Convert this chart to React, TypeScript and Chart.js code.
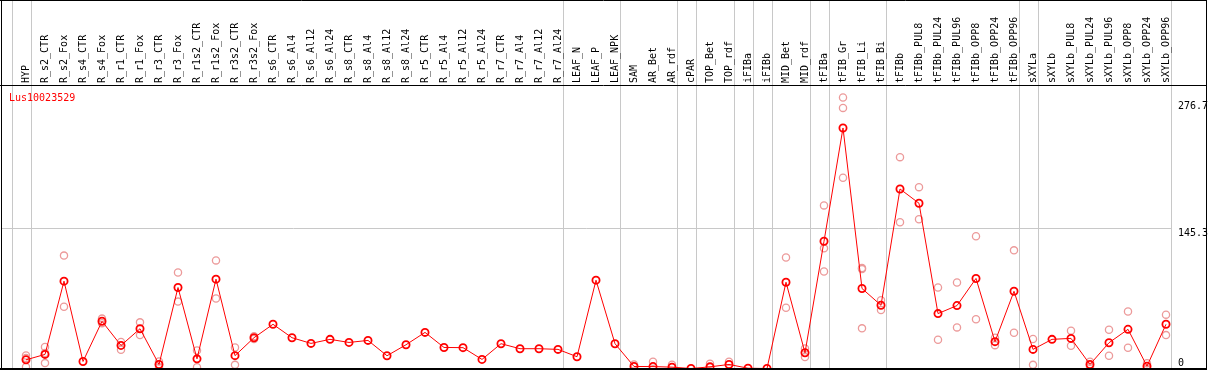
import React, { useEffect, useRef } from "react";
import { Chart, registerables } from "chart.js";

Chart.register(...registerables);

const categories = [
  "HYP", "R_s2_CTR", "R_s2_Fox", "R_s4_CTR", "R_s4_Fox", "R_r1_CTR", "R_r1_Fox", "R_r3_CTR", "R_r3_Fox",
  "R_r1s2_CTR", "R_r1s2_Fox", "R_r3s2_CTR", "R_r3s2_Fox", "R_s6_CTR", "R_s6_Al4", "R_s6_Al12", "R_s6_Al24",
  "R_s8_CTR", "R_s8_Al4", "R_s8_Al12", "R_s8_Al24", "R_r5_CTR", "R_r5_Al4", "R_r5_Al12", "R_r5_Al24",
  "R_r7_CTR", "R_r7_Al4", "R_r7_Al12", "R_r7_Al24", "LEAF_N", "LEAF_P", "LEAF_NPK", "SAM", "AR_Bet", "AR_rdf",
  "cPAR", "TOP_Bet", "TOP_rdf", "iFIBa", "iFIBb", "MID_Bet", "MID_rdf", "tFIBa", "tFIB_Gr", "tFIB_Li", "tFIB_Bi",
  "tFIBb", "tFIBb_PUL8", "tFIBb_PUL24", "tFIBb_PUL96", "tFIBb_OPP8", "tFIBb_OPP24", "tFIBb_OPP96",
  "sXYLa", "sXYLb", "sXYLb_PUL8", "sXYLb_PUL24", "sXYLb_PUL96", "sXYLb_OPP8", "sXYLb_OPP24", "sXYLb_OPP96",
];

const meanValues = [
  9.0, 14.6, 90.5, 7.3, 48.9, 23.9, 41.2, 4.2, 83.9,
  10.0, 92.6, 13.3, 31.9, 45.8, 31.9, 26.0, 30.2,
  27.0, 29.1, 13.2, 24.6, 37.4, 21.8, 21.6, 9.4,
  25.7, 20.5, 20.5, 19.8, 12.2, 91.5, 25.7, 2.1, 2.0, 1.4,
  0, 1.7, 4.2, 0.3, 0, 89.4, 16.3, 131.8, 249.2, 82.9, 65.5,
  186.0, 171.2, 56.9, 65.2, 93.3, 27.8, 80.0,
  19.8, 30.2, 31.2, 4.2, 26.7, 40.6, 2.4, 45.8,
];

const rep1 = [
  13.5, 22.2, 117, null, 51.7, 27.4, 47.8, 7.3, 99.5,
  18.7, 112, 21.7, 33.5, null, null, null, null,
  null, null, null, null, null, null, null, null,
  null, null, null, null, null, null, null, 4.2, 7, 4,
  null, 5, 7, null, null, 115, 20.8, 169, 280.8, 104, 70.7,
  219, 187.9, 83.9, 89.1, 137, 31.9, 122.4,
  30.5, null, 39.2, 7, 40.2, 59, 5.5, 55.8,
];

const rep2 = [
  1.5, 5.6, 64, null, 47, 19.4, 34.6, 1.4, 69.3,
  1.4, 72.5, 3.8, 30.5, null, null, null, null,
  null, null, null, null, null, null, null, null,
  null, null, null, null, null, null, null, null, null, null,
  null, null, null, null, null, 63, 11.8, 100.5, 197.6, 41.6, 60.6,
  151.5, 154.6, 29.8, 42.6, 51, 24.2, 37.1,
  3.8, null, 23.6, 1.7, 13.2, 21.5, 0, 34.6,
];

const rep3 = [
  11, 16, null, null, null, null, null, null, null,
  null, null, null, null, null, null, null, null,
  null, null, null, null, null, null, null, null,
  null, null, null, null, null, null, null, null, null, null,
  null, null, null, null, null, null, null, 124.5, 270, 103, null,
  null, null, null, null, null, null, null,
  null, null, null, null, null, null, null, null,
];

// index of last category in each group (group separators)
const groupEnds = [-1, 0, 28, 31, 34, 35, 37, 38, 39, 41, 42, 45, 52, 53, 60];
const yTickValues = [0, 145.3, 276.7];
const yTickLabels = ["0", "145.3", "276.7"];
const geneName = "Lus10023529";

const MONO = "'DejaVu Sans Mono', monospace";

export default function App() {
  const ref = useRef<HTMLCanvasElement | null>(null);

  useEffect(() => {
    document.body.style.margin = "0";
    const canvas = ref.current;
    if (!canvas) return;

    const decor = {
      id: "decor",
      beforeDraw(chart: any) {
        const ctx = chart.ctx;
        const xs = chart.scales.x;
        const ys = chart.scales.y;
        const step = xs.getPixelForValue(1) - xs.getPixelForValue(0);
        ctx.save();
        ctx.strokeStyle = "#c8c8c8";
        ctx.lineWidth = 1;
        let lastX = 0;
        groupEnds.forEach((g) => {
          const x = Math.round(xs.getPixelForValue(g) + 0.25 * step) + 0.5;
          lastX = x;
          ctx.beginPath();
          ctx.moveTo(x, 0);
          ctx.lineTo(x, 370);
          ctx.stroke();
        });
        const gy = Math.round(ys.getPixelForValue(yTickValues[1])) + 0.5;
        ctx.beginPath();
        ctx.moveTo(1, gy);
        ctx.lineTo(lastX, gy);
        ctx.stroke();
        ctx.restore();
      },
      afterDraw(chart: any) {
        const ctx = chart.ctx;
        ctx.save();
        ctx.strokeStyle = "#000";
        ctx.lineWidth = 1;
        ctx.beginPath();
        ctx.moveTo(0, 0.5);
        ctx.lineTo(1207, 0.5);
        ctx.moveTo(1.5, 0);
        ctx.lineTo(1.5, 370);
        ctx.moveTo(1206.5, 0);
        ctx.lineTo(1206.5, 370);
        ctx.moveTo(0, 85.5);
        ctx.lineTo(1207, 85.5);
        ctx.stroke();
        ctx.lineWidth = 2;
        ctx.beginPath();
        ctx.moveTo(0, 369);
        ctx.lineTo(1207, 369);
        ctx.stroke();
        ctx.fillStyle = "#ff0000";
        ctx.font = "10px " + MONO;
        ctx.textBaseline = "middle";
        ctx.textAlign = "left";
        ctx.fillText(geneName, 9, 98);
        ctx.restore();
      },
    };

    const repStyle = {
      showLine: false,
      pointRadius: 3.6,
      pointBorderWidth: 1.3,
      pointBorderColor: "#ec9a9a",
      pointBackgroundColor: "rgba(0,0,0,0)",
      borderColor: "#ec9a9a",
      clip: false as any,
      order: 2,
    };

    const chart = new Chart(canvas, {
      type: "line",
      data: {
        labels: categories,
        datasets: [
          {
            label: "mean",
            data: meanValues,
            borderColor: "#ff0000",
            borderWidth: 1,
            pointRadius: 3.6,
            pointBorderWidth: 1.8,
            pointBorderColor: "#ff0000",
            pointBackgroundColor: "rgba(0,0,0,0)",
            tension: 0,
            fill: false,
            clip: false as any,
            order: 0,
          },
          { label: "rep1", data: rep1, ...repStyle },
          { label: "rep2", data: rep2, ...repStyle },
          { label: "rep3", data: rep3, ...repStyle },
        ],
      },
      options: {
        animation: false,
        responsive: false,
        maintainAspectRatio: false,
        events: [],
        layout: { autoPadding: false, padding: { left: 26, right: 0, top: 0, bottom: 1.5 } },
        plugins: {
          legend: { display: false },
          tooltip: { enabled: false },
          title: { display: false },
        },
        scales: {
          x: {
            type: "category",
            position: "top",
            offset: false,
            grid: { display: false, drawTicks: false },
            border: { display: false },
            ticks: {
              autoSkip: false,
              minRotation: 90,
              maxRotation: 90,
              padding: 3,
              labelOffset: 12,
              color: "#000",
              font: { family: MONO, size: 10 },
            },
            afterFit: (s: any) => {
              s.height = 86;
              s.paddingLeft = 0;
              s.paddingRight = 0;
            },
          },
          y: {
            type: "linear",
            position: "right",
            min: 0,
            max: 292.7,
            grid: { display: false, drawTicks: false },
            border: { display: false },
            afterBuildTicks: (s: any) => {
              s.ticks = yTickValues.map((v) => ({ value: v }));
            },
            ticks: {
              padding: 12,
              color: "#000",
              font: { family: MONO, size: 10, lineHeight: 1.05 },
              callback: (v: any) => {
                const i = yTickValues.indexOf(Number(v));
                const t = i >= 0 ? yTickLabels[i] : String(v);
                return Number(v) === 0 ? [t, ""] : ["", t];
              },
            },
            afterFit: (s: any) => {
              s.width = 43;
              s.paddingTop = 0;
              s.paddingBottom = 0;
            },
          },
        },
      },
      plugins: [decor],
    });

    return () => {
      chart.destroy();
    };
  }, []);

  return (
    <canvas
      ref={ref}
      width={1209}
      height={370}
      style={{ display: "block", width: "1209px", height: "370px" }}
    />
  );
}
